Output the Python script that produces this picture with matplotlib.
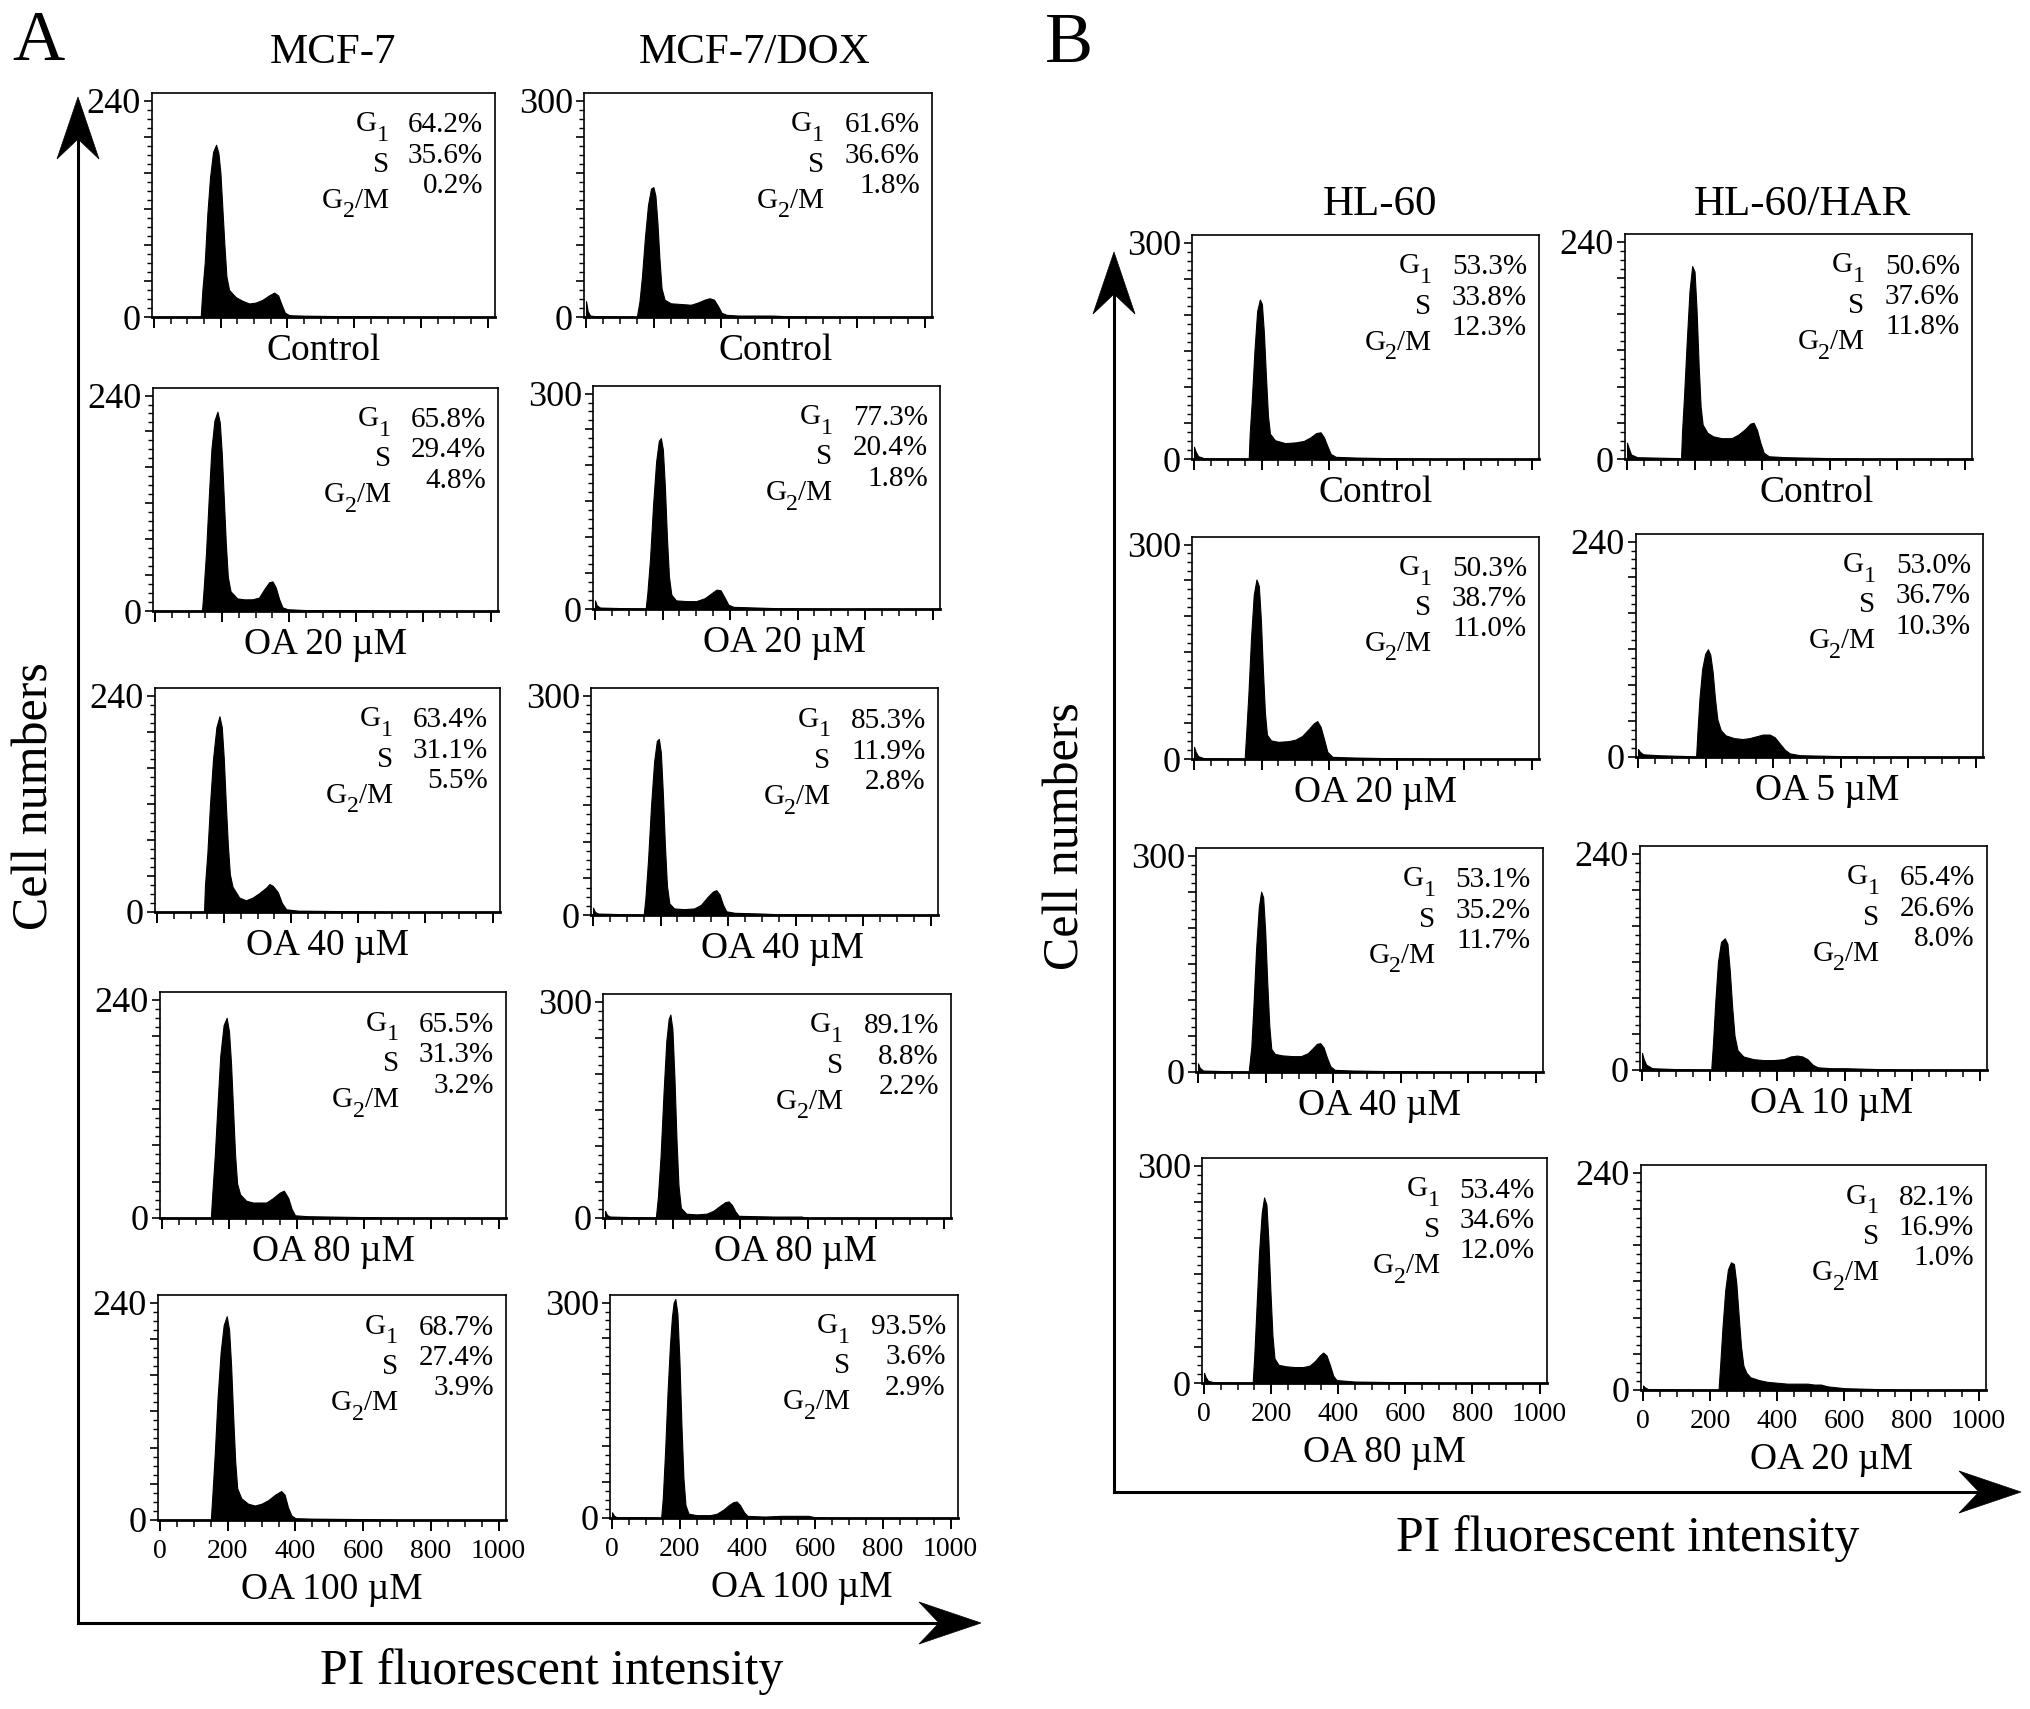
import numpy as np
import matplotlib
matplotlib.use('agg')
import matplotlib.pyplot as plt
from matplotlib.lines import Line2D
from matplotlib.patches import Polygon
from matplotlib.ticker import MultipleLocator, FixedLocator
from matplotlib.transforms import offset_copy

plt.rcParams['font.family'] = ['Liberation Serif', 'DejaVu Serif']

# ---------------- data ----------------
# histogram outlines: (PI channel, cell count)
mcf7_hist = [
    [(0,0),(140,0),(145,30),(152,60),(160,115),(168,155),(177,183),(186,191),(193,182),(199,160),(205,120),(211,80),
     (217,45),(225,30),(245,22),(265,18),(285,15),(305,16),(325,19),(345,24),(360,27),(372,24),(382,14),(392,5),
     (405,2),(450,1.5),(550,1),(650,0.5),(700,0)],
    [(0,1),(20,0),(140,0),(145,25),(152,65),(160,125),(168,180),(177,212),(186,222),(193,210),(199,175),(205,125),
     (211,75),(217,38),(225,22),(245,14),(265,13),(290,13),(310,15),(325,24),(340,32),(350,33),(360,26),(370,13),
     (380,4),(395,2),(450,1),(600,1),(700,0)],
    [(0,0),(140,0),(143,30),(150,65),(158,120),(167,170),(177,205),(186,217),(193,205),(199,170),(205,120),(211,75),
     (217,42),(225,28),(245,16),(265,13),(285,16),(305,21),(325,27),(335,31),(345,29),(360,22),(372,10),(385,3),
     (420,1.5),(550,1),(700,0)],
    [(0,1),(15,0),(145,0),(150,30),(157,70),(165,125),(173,178),(183,212),(192,220),(199,205),(205,170),(211,120),
     (217,70),(223,38),(232,26),(250,19),(270,17),(290,17),(310,17),(330,22),(350,28),(362,30),(375,22),(385,10),
     (395,3),(430,2),(600,1),(700,0)],
    [(0,0),(150,0),(155,30),(162,75),(170,135),(179,185),(188,215),(197,225),(204,210),(210,170),(216,115),(222,65),
     (228,35),(240,24),(260,18),(280,16),(300,18),(320,22),(340,28),(358,32),(368,28),(378,14),(388,5),(400,2),
     (450,1.5),(600,1),(700,0)],
]
mcf7dox_hist = [
    [(0,22),(5,8),(12,2),(30,1),(150,0),(158,22),(165,55),(174,110),(183,155),(192,178),(199,180),(205,168),
     (211,130),(217,80),(223,40),(232,24),(250,19),(280,18),(310,17),(330,20),(350,24),(365,26),(378,24),(390,15),
     (400,6),(415,3),(450,2),(550,2),(600,1),(700,0)],
    [(0,12),(5,5),(15,2),(100,1),(150,0),(155,22),(163,70),(172,145),(181,205),(189,234),(195,238),(201,222),
     (207,170),(213,100),(219,45),(226,20),(240,12),(270,11),(300,11),(325,15),(345,22),(360,27),(372,26),(385,15),
     (395,6),(410,3),(480,2),(550,1),(700,0)],
    [(0,10),(6,4),(15,2),(100,1),(150,0),(155,22),(163,75),(172,150),(181,210),(189,238),(195,241),(201,222),
     (207,165),(213,95),(219,40),(226,16),(240,9),(270,8),(300,9),(320,14),(340,25),(355,32),(365,34),(375,28),
     (385,14),(395,5),(420,3),(500,2),(550,1),(700,0)],
    [(0,10),(6,4),(15,2),(100,1),(150,0),(156,28),(164,85),(173,175),(181,245),(188,276),(193,282),(199,262),
     (205,195),(211,110),(217,45),(224,14),(240,6),(270,5),(300,6),(320,10),(340,17),(355,22),(365,23),(375,18),
     (385,9),(395,3),(500,2),(580,2),(600,0),(700,0)],
    [(0,8),(6,3),(15,1),(100,1),(145,0),(150,28),(157,95),(164,175),(171,240),(177,280),(182,300),(187,305),
     (193,285),(199,220),(205,130),(211,55),(217,18),(226,6),(250,4),(290,4),(310,6),(330,12),(345,18),(358,22),
     (368,23),(378,18),(390,8),(400,3),(450,2),(500,3),(580,3),(600,1),(700,0)],
]
hl60_hist = [
    [(0,17),(5,10),(12,4),(30,1),(150,0),(162,0),(165,35),(171,80),(179,150),(187,205),(195,221),(201,215),
     (207,175),(213,115),(219,60),(225,35),(240,26),(270,22),(300,23),(325,25),(345,30),(362,36),(375,37),(385,30),
     (395,18),(405,7),(420,3),(480,2),(600,1),(700,0)],
    [(0,17),(5,10),(12,4),(30,1),(150,0),(155,40),(161,90),(169,170),(177,230),(185,251),(192,242),(198,195),
     (204,125),(210,65),(216,34),(228,26),(250,24),(280,25),(300,27),(320,32),(340,42),(355,50),(365,53),(375,45),
     (385,28),(395,10),(410,3),(480,2),(600,1),(700,0)],
    [(0,12),(5,6),(15,2),(100,1),(150,0),(158,35),(164,90),(172,170),(180,228),(187,250),(193,242),(199,195),
     (205,125),(211,65),(217,32),(228,25),(250,23),(280,22),(305,22),(325,26),(340,33),(352,39),(362,40),(372,34),
     (382,20),(392,8),(405,3),(460,2),(600,1),(700,0)],
    [(0,14),(5,8),(12,3),(30,1),(145,0),(150,40),(156,100),(164,180),(172,235),(179,256),(186,246),(192,195),
     (198,125),(204,65),(210,34),(222,25),(245,23),(270,22),(295,22),(315,24),(330,30),(345,38),(355,42),(365,38),
     (375,25),(385,10),(395,4),(450,2),(600,1),(700,0)],
]
hl60har_hist = [
    [(0,18),(5,12),(12,5),(30,2),(150,1),(160,0),(163,30),(169,70),(177,130),(185,185),(193,213),(200,207),
     (206,165),(212,105),(218,58),(224,38),(238,29),(255,25),(280,23),(310,23),(330,27),(350,33),(365,39),(375,40),
     (385,32),(395,18),(405,7),(420,3),(470,2),(600,1),(700,0)],
    [(0,9),(5,6),(15,3),(60,2),(150,1),(172,0),(176,28),(182,65),(190,98),(199,115),(207,120),(214,114),(221,95),
     (228,65),(235,42),(245,30),(260,24),(285,21),(310,20),(330,21),(350,23),(370,25),(390,25),(405,22),(420,15),
     (435,8),(450,4),(480,2),(600,1),(700,0)],
    [(0,19),(5,12),(12,6),(30,2),(100,1),(205,0),(210,28),(217,75),(225,120),(234,142),(245,146),(253,140),
     (260,110),(267,70),(274,38),(283,22),(300,15),(330,12),(360,11),(390,11),(420,12),(440,15),(460,16),(475,15),
     (490,12),(505,6),(520,3),(560,2),(600,2),(700,1),(800,0)],
    [(0,5),(5,3),(15,1),(200,0),(225,0),(230,28),(237,70),(245,110),(253,133),(262,141),(271,139),(278,118),
     (285,82),(292,48),(299,27),(308,19),(320,14),(345,11),(370,9),(400,8),(430,7),(460,7),(490,7),(510,6),
     (530,6),(550,4),(600,2),(700,1),(800,0)],
]

# cell-cycle percentages (G1, S, G2/M)
mcf7_pct = [(64.2, 35.6, 0.2), (65.8, 29.4, 4.8), (63.4, 31.1, 5.5), (65.5, 31.3, 3.2), (68.7, 27.4, 3.9)]
mcf7dox_pct = [(61.6, 36.6, 1.8), (77.3, 20.4, 1.8), (85.3, 11.9, 2.8), (89.1, 8.8, 2.2), (93.5, 3.6, 2.9)]
hl60_pct = [(53.3, 33.8, 12.3), (50.3, 38.7, 11.0), (53.1, 35.2, 11.7), (53.4, 34.6, 12.0)]
hl60har_pct = [(50.6, 37.6, 11.8), (53.0, 36.7, 10.3), (65.4, 26.6, 8.0), (82.1, 16.9, 1.0)]

mcf7_labels = ['Control', 'OA 20 µM', 'OA 40 µM', 'OA 80 µM', 'OA 100 µM']
hl60_labels = ['Control', 'OA 20 µM', 'OA 40 µM', 'OA 80 µM']
hl60har_labels = ['Control', 'OA 5 µM', 'OA 10 µM', 'OA 20 µM']

# phase names as (text, is_subscript) pieces
phase_names = [[('G', False), ('1', True)], [('S', False)], [('G', False), ('2', True), ('/M', False)]]

ymax = {'MCF-7': 240, 'MCF-7/DOX': 300, 'HL-60': 300, 'HL-60/HAR': 240}
xtick_vals = [0, 200, 400, 600, 800, 1000]

# ---------------- layout (pixels of the 2031x1709 canvas) ----------------
W, H = 2031, 1709
DPI = 100
boxes_A_left = [(152, 93, 495, 317), (153, 388, 498, 611), (155, 688, 500, 912), (160, 992, 506, 1218), (158, 1295, 506, 1520)]
boxes_A_right = [(584, 93, 932, 317), (593, 386, 940, 609), (591, 688, 938, 915), (603, 994, 951, 1218), (610, 1295, 958, 1518)]
boxes_B_left = [(1192, 235, 1539, 459), (1192, 537, 1539, 759), (1196, 848, 1543, 1072), (1202, 1158, 1547, 1383)]
boxes_B_right = [(1625, 234, 1972, 459), (1636, 534, 1983, 757), (1640, 846, 1987, 1070), (1641, 1165, 1986, 1390)]

fig = plt.figure(figsize=(W / DPI, H / DPI), dpi=DPI)
renderer = fig.canvas.get_renderer()


def fxy(px, py):
    return px / W, 1 - py / H


def big_arrow(x0, y0, x1, y1, head_len=62, half_w=21, notch=20):
    d = np.array([x1 - x0, y1 - y0], float)
    d /= np.hypot(*d)
    p = np.array([-d[1], d[0]])
    tip = np.array([x1, y1], float)
    back = tip - d * head_len
    nt = tip - d * (head_len - notch)
    fig.add_artist(Line2D([x0 / W, nt[0] / W], [1 - y0 / H, 1 - nt[1] / H],
                          transform=fig.transFigure, color='black', lw=2.2))
    pts = [tip, back + p * half_w, nt, back - p * half_w]
    fig.add_artist(Polygon([fxy(*q) for q in pts], closed=True, transform=fig.transFigure,
                           facecolor='black', edgecolor='black', lw=0.5))


def right_pieces(ax, xr, y, pieces, size):
    # right-aligned label built from normal and subscript pieces
    off = 0.0
    for txt, sub in reversed(pieces):
        fs = size * 0.82 if sub else size
        dy = -size * 0.38 if sub else 0
        tr = offset_copy(ax.transAxes, fig=fig, x=-off, y=dy, units='points')
        t = ax.text(xr, y, txt, transform=tr, ha='right', va='center', fontsize=fs)
        off += t.get_window_extent(renderer).width * 72.0 / DPI


def panel(box, pts, pct, ytop, label, bottom, label_dx=0):
    x0, y0, x1, y1 = box
    ax = fig.add_axes([x0 / W, 1 - y1 / H, (x1 - x0) / W, (y1 - y0) / H])
    xs = [q[0] for q in pts]
    ys = [q[1] for q in pts]
    ax.fill_between(xs, ys, 0, color='black', lw=0.8)
    ax.set_xlim(-6, 1022)
    ax.set_ylim(0, ytop * 1.035)
    for s in ax.spines.values():
        s.set_linewidth(1.2)
    ax.spines['bottom'].set_linewidth(2.0)
    ax.xaxis.set_major_locator(FixedLocator(xtick_vals))
    ax.xaxis.set_minor_locator(MultipleLocator(50))
    yt = np.linspace(0, ytop, 7)
    ax.yaxis.set_major_locator(FixedLocator(yt))
    ax.set_yticklabels(['0', '', '', '', '', '', str(ytop)])
    ax.yaxis.set_minor_locator(MultipleLocator(ytop / 24))
    ax.tick_params(axis='x', which='major', direction='out', length=8, width=1.4, labelsize=20, pad=6)
    ax.tick_params(axis='x', which='minor', direction='out', length=5, width=1.1)
    ax.tick_params(axis='y', which='major', direction='out', length=6, width=1.2, labelsize=26, pad=2)
    ax.tick_params(axis='y', which='minor', direction='out', length=3.5, width=1.0)
    if bottom:
        ax.set_xticklabels([str(v) for v in xtick_vals])
    else:
        ax.set_xticklabels([])
    # phase percentages
    label_y = [0.86, 0.68, 0.52]
    value_y = [0.855, 0.72, 0.585]
    for nm, ly, vy, v in zip(phase_names, label_y, value_y, pct):
        right_pieces(ax, 0.69, ly, nm, 21)
        ax.text(0.965, vy, '%.1f%%' % v, transform=ax.transAxes, ha='right', va='center', fontsize=21)
    cx = (x0 + x1) / 2 + label_dx
    cy = y1 + (70 if bottom else 34)
    fig.text(*fxy(cx, cy), label, ha='center', va='center', fontsize=27)
    return ax


for i in range(5):
    panel(boxes_A_left[i], mcf7_hist[i], mcf7_pct[i], ymax['MCF-7'], mcf7_labels[i], i == 4)
    panel(boxes_A_right[i], mcf7dox_hist[i], mcf7dox_pct[i], ymax['MCF-7/DOX'], mcf7_labels[i], i == 4, 18)
for i in range(4):
    panel(boxes_B_left[i], hl60_hist[i], hl60_pct[i], ymax['HL-60'], hl60_labels[i], i == 3, 10)
    panel(boxes_B_right[i], hl60har_hist[i], hl60har_pct[i], ymax['HL-60/HAR'], hl60har_labels[i], i == 3, 18)

# column titles and panel letters
fig.text(*fxy(333, 53), 'MCF-7', ha='center', va='center', fontsize=31)
fig.text(*fxy(755, 53), 'MCF-7/DOX', ha='center', va='center', fontsize=31)
fig.text(*fxy(1380, 205), 'HL-60', ha='center', va='center', fontsize=31)
fig.text(*fxy(1802, 205), 'HL-60/HAR', ha='center', va='center', fontsize=31)
fig.text(*fxy(38, 42), 'A', ha='center', va='center', fontsize=52)
fig.text(*fxy(1069, 45), 'B', ha='center', va='center', fontsize=52)

# big axis arrows
big_arrow(78, 1623, 78, 97)
big_arrow(78, 1623, 981, 1623)
big_arrow(1114, 1492, 1114, 252)
big_arrow(1114, 1492, 2021, 1492)

fig.text(*fxy(35, 796), 'Cell numbers', rotation=90, ha='center', va='center', fontsize=36)
fig.text(*fxy(1066, 836), 'Cell numbers', rotation=90, ha='center', va='center', fontsize=36)
fig.text(*fxy(552, 1672), 'PI fluorescent intensity', ha='center', va='center', fontsize=36)
fig.text(*fxy(1628, 1539), 'PI fluorescent intensity', ha='center', va='center', fontsize=36)

fig.savefig('out.png', dpi=DPI)
